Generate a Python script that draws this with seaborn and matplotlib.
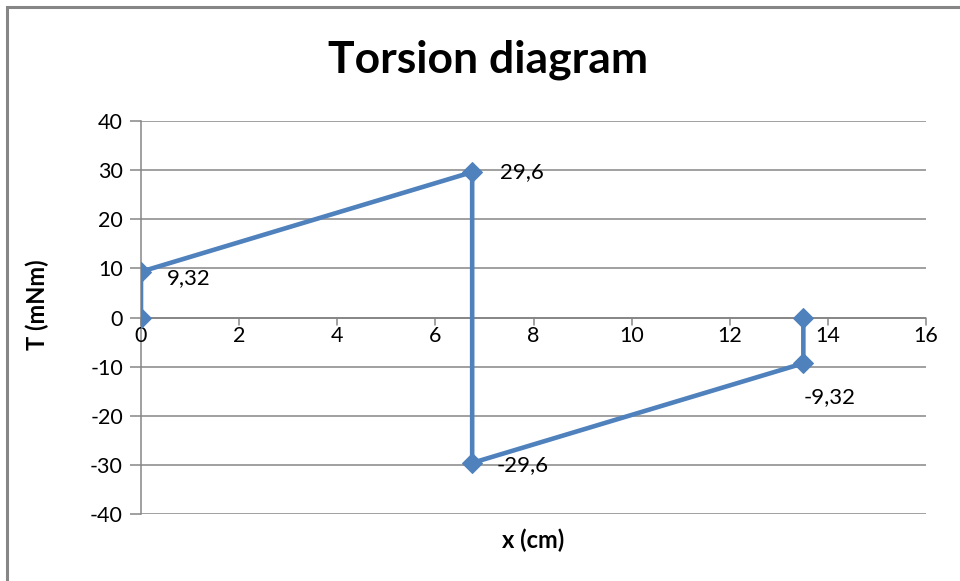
import matplotlib
matplotlib.use("Agg")
import matplotlib.pyplot as plt
from matplotlib.patches import Rectangle
import seaborn as sns
import pandas as pd

# Torsion moment along the shaft
x_cm = [0, 0, 6.75, 6.75, 13.5, 13.5]
torque = [0, 9.32, 29.6, -29.6, -9.32, 0]
point_labels = ["", "9,32", "29,6", "-29,6", "-9,32", ""]
x_ticks = [0, 2, 4, 6, 8, 10, 12, 14, 16]
y_ticks = [-40, -30, -20, -10, 0, 10, 20, 30, 40]

sns.set_theme(style="white")
plt.rcParams["font.family"] = ["Lato", "DejaVu Sans"]
plt.rcParams["text.color"] = "black"
plt.rcParams["axes.labelcolor"] = "black"
plt.rcParams["xtick.color"] = "black"
plt.rcParams["ytick.color"] = "black"

GRAY = "#868686"
BLUE = "#4F81BD"
TICK_FS = 15.5

fig = plt.figure(figsize=(9.6, 5.81), dpi=100)
ax = fig.add_axes([141 / 960, 67 / 581, 785 / 960, 393 / 581])

# outer chart frame
fig.patches.append(Rectangle((7 / 960, -0.05), 1.0, (581 - 7) / 581 + 0.05,
                             transform=fig.transFigure, fill=False,
                             edgecolor=GRAY, linewidth=2.2))

df = pd.DataFrame({"x": x_cm, "T": torque})
sns.lineplot(data=df, x="x", y="T", sort=False, estimator=None, ax=ax,
             color=BLUE, linewidth=3.3, marker="D", markersize=10,
             markeredgecolor=BLUE, zorder=5)

ax.set_xlim(0, 16)
ax.set_ylim(-40, 40)
ax.set_yticks(y_ticks)
ax.set_xticks(x_ticks)
ax.set_yticklabels([str(v) for v in y_ticks])

# horizontal gridlines only
ax.yaxis.grid(True, color=GRAY, linewidth=1.1)
ax.xaxis.grid(False)
ax.set_axisbelow(True)

for side in ["top", "right", "bottom"]:
    ax.spines[side].set_visible(False)
ax.spines["left"].set_color(GRAY)
ax.spines["left"].set_linewidth(1.1)
ax.spines["left"].set_position(("data", 0))

# x axis crosses at T = 0
ax.axhline(0, color=GRAY, linewidth=1.3, zorder=2)
ax.tick_params(axis="y", which="both", left=True, length=8, width=1.1,
               color=GRAY, pad=5, labelcolor="black", labelsize=TICK_FS)
ax.tick_params(axis="x", which="both", bottom=False, labelbottom=False)
for xv in x_ticks:
    ax.plot([xv, xv], [0, -1.6], color=GRAY, linewidth=1.1, zorder=2,
            clip_on=False)
    ax.text(xv, -3.8, str(xv), ha="center", va="center", fontsize=TICK_FS,
            color="black")

# value labels next to points: (dx px, dy px, horizontal alignment)
offsets = {"9,32": (26, -6, "left"), "29,6": (28, 0, "left"),
           "-29,6": (24, -2, "left"), "-9,32": (26, -34, "center")}
for xv, yv, lab in zip(x_cm, torque, point_labels):
    if not lab:
        continue
    dx, dy, ha = offsets[lab]
    ax.annotate(lab, (xv, yv), xytext=(dx * 0.72, dy * 0.72),
                textcoords="offset points", ha=ha, va="center", fontsize=16,
                color="black")

ax.set_xlabel("")
ax.set_ylabel("")
fig.text(533 / 960, 1 - 540 / 581, "x (cm)", ha="center", va="center",
         fontsize=17, fontweight="bold")
fig.text(37 / 960, 1 - 305 / 581, "T (mNm)", ha="center", va="center",
         fontsize=17, fontweight="bold", rotation=90)
fig.text(488 / 960, 1 - 60 / 581, "Torsion diagram", ha="center",
         va="center", fontsize=32, fontweight="bold")

fig.savefig("out.png", dpi=100)
